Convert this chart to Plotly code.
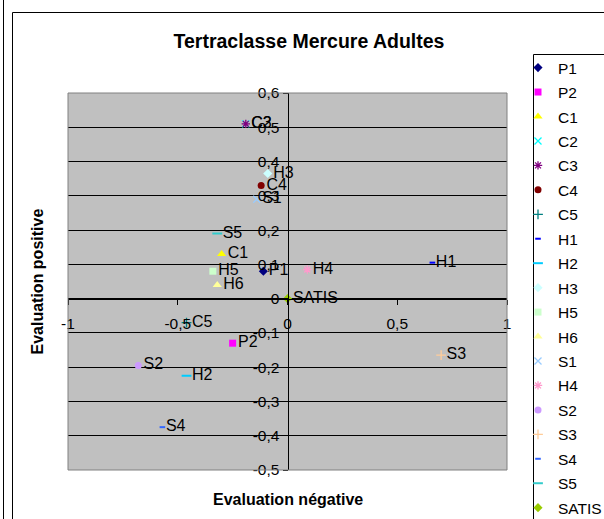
import plotly.graph_objects as go

# ---- data ----
names = ["P1", "P2", "C1", "C2", "C3", "C4", "C5", "H1", "H2", "H3",
         "H5", "H6", "S1", "H4", "S2", "S3", "S4", "S5", "SATIS"]
x_neg = [-0.11, -0.25, -0.30, -0.19, -0.19, -0.12, -0.46, 0.66, -0.46, -0.09,
         -0.34, -0.32, -0.14, 0.09, -0.68, 0.70, -0.57, -0.32, 0.0]
y_pos = [0.08, -0.13, 0.13, 0.51, 0.51, 0.33, -0.07, 0.105, -0.225, 0.365,
         0.08, 0.04, 0.29, 0.085, -0.195, -0.165, -0.375, 0.19, 0.0]
colors = ["#000080", "#FF00FF", "#FFFF00", "#00FFFF", "#800080", "#800000",
          "#008080", "#0000FF", "#00CCFF", "#CCFFFF", "#CCFFCC", "#FFFF99",
          "#99CCFF", "#FF99CC", "#CC99FF", "#FFCC99", "#3366FF", "#33CCCC",
          "#99CC00"]
symbols = ["diamond", "square", "triangle-up", "x-thin", "asterisk", "circle",
           "cross-thin", "line-ew", "line-ew", "diamond", "square", "triangle-up",
           "x-thin", "asterisk", "circle", "cross-thin", "line-ew", "line-ew",
           "diamond"]
sizes = [7, 7, 8, 7, 7, 7, 7, 4, 7, 7, 7, 8, 7, 7, 7, 7, 4, 7, 7]

x_tickvals = [-1, -0.5, 0, 0.5, 1]
x_ticktext = ["-1", "-0,5", "0", "0,5", "1"]
y_tickvals = [0.6, 0.5, 0.4, 0.3, 0.2, 0.1, 0, -0.1, -0.2, -0.3, -0.4, -0.5]
y_ticktext = ["0,6", "0,5", "0,4", "0,3", "0,2", "0,1", "0", "-0,1", "-0,2",
              "-0,3", "-0,4", "-0,5"]

title = "Tertraclasse Mercure Adultes"
x_title = "Evaluation négative"
y_title = "Evaluation positive"

FONT = "Arial, Liberation Sans, sans-serif"

# ---- layout geometry (pixels) ----
W, H = 604, 519
L, R, T, B = 68, 97, 93, 49
PW = W - L - R
PH = H - T - B


def px_x(p):
    return (p - L) / PW


def px_y(p):
    return (H - B - p) / PH


line_syms = {"x-thin", "asterisk", "cross-thin", "line-ew"}

fig = go.Figure()
for i, n in enumerate(names):
    sym = symbols[i]
    if sym in line_syms:
        marker = dict(symbol=sym, size=sizes[i], color=colors[i],
                      line=dict(color=colors[i], width=2 if sym == "line-ew" else 1.3))
    else:
        marker = dict(symbol=sym, size=sizes[i], color=colors[i],
                      line=dict(width=0))
    fig.add_trace(go.Scatter(
        x=[x_neg[i]], y=[y_pos[i]], mode="markers+text", name=n,
        text=[n], textposition="middle right",
        textfont=dict(family=FONT, size=16, color="black"),
        marker=marker, legendgroup=n, cliponaxis=False,
    ))

fig.update_layout(
    width=W, height=H,
    margin=dict(l=L, r=R, t=T, b=B, autoexpand=False),
    paper_bgcolor="white",
    plot_bgcolor="#C0C0C0",
    font=dict(family=FONT, size=15.5, color="black"),
    title=dict(text="<b>" + title + "</b>", x=309 / W, xanchor="center",
               y=1 - 41 / H, yanchor="middle",
               font=dict(family=FONT, size=19.5, color="black")),
    showlegend=True,
    legend=dict(x=px_x(518), y=px_y(51), xanchor="left", yanchor="top",
                bgcolor="rgba(0,0,0,0)", borderwidth=0,
                font=dict(family=FONT, size=15.5, color="black"),
                tracegroupgap=1.3, itemsizing="trace", maxheight=700),
    xaxis=dict(range=[-1, 1], tickvals=x_tickvals, ticktext=x_ticktext,
               showgrid=False, zeroline=False, showline=True,
               linecolor="black", linewidth=1, anchor="free",
               position=0.5 / 1.1, ticks="outside", ticklen=5,
               tickcolor="black", ticklabelstandoff=6,
               tickfont=dict(family=FONT, size=15.5, color="black")),
    yaxis=dict(range=[-0.5, 0.6], tickvals=y_tickvals, ticktext=y_ticktext,
               showgrid=True, gridcolor="black", gridwidth=1,
               zeroline=False, showline=True, linecolor="black", linewidth=1,
               anchor="free", position=0.5, ticks="outside", ticklen=5,
               tickcolor="black",
               tickfont=dict(family=FONT, size=15.5, color="black")),
    shapes=[
        # plot area border
        dict(type="rect", xref="paper", yref="paper", x0=0, x1=1, y0=0, y1=1,
             line=dict(color="#808080", width=1), layer="above"),
        # outer frame lines
        dict(type="line", xref="paper", yref="paper", x0=px_x(3.5), x1=px_x(3.5),
             y0=px_y(-5), y1=px_y(530), line=dict(color="black", width=1)),
        dict(type="line", xref="paper", yref="paper", x0=px_x(12.5), x1=px_x(12.5),
             y0=px_y(12.5), y1=px_y(530), line=dict(color="black", width=1)),
        dict(type="line", xref="paper", yref="paper", x0=px_x(12.5), x1=px_x(620),
             y0=px_y(12.5), y1=px_y(12.5), line=dict(color="black", width=1)),
        # legend box
        dict(type="rect", xref="paper", yref="paper", x0=px_x(533.5), x1=px_x(640),
             y0=px_y(540), y1=px_y(54.5), line=dict(color="black", width=1),
             fillcolor="white", layer="below"),
    ],
    annotations=[
        dict(text="<b>" + y_title + "</b>", xref="paper", yref="paper",
             x=px_x(37), y=px_y(281.5), textangle=-90, showarrow=False,
             xanchor="center", yanchor="middle",
             font=dict(family=FONT, size=16, color="black")),
        dict(text="<b>" + x_title + "</b>", xref="paper", yref="paper",
             x=px_x(287.5), y=px_y(499), showarrow=False,
             xanchor="center", yanchor="middle",
             font=dict(family=FONT, size=16, color="black")),
    ],
)

fig.write_html("out.html")
